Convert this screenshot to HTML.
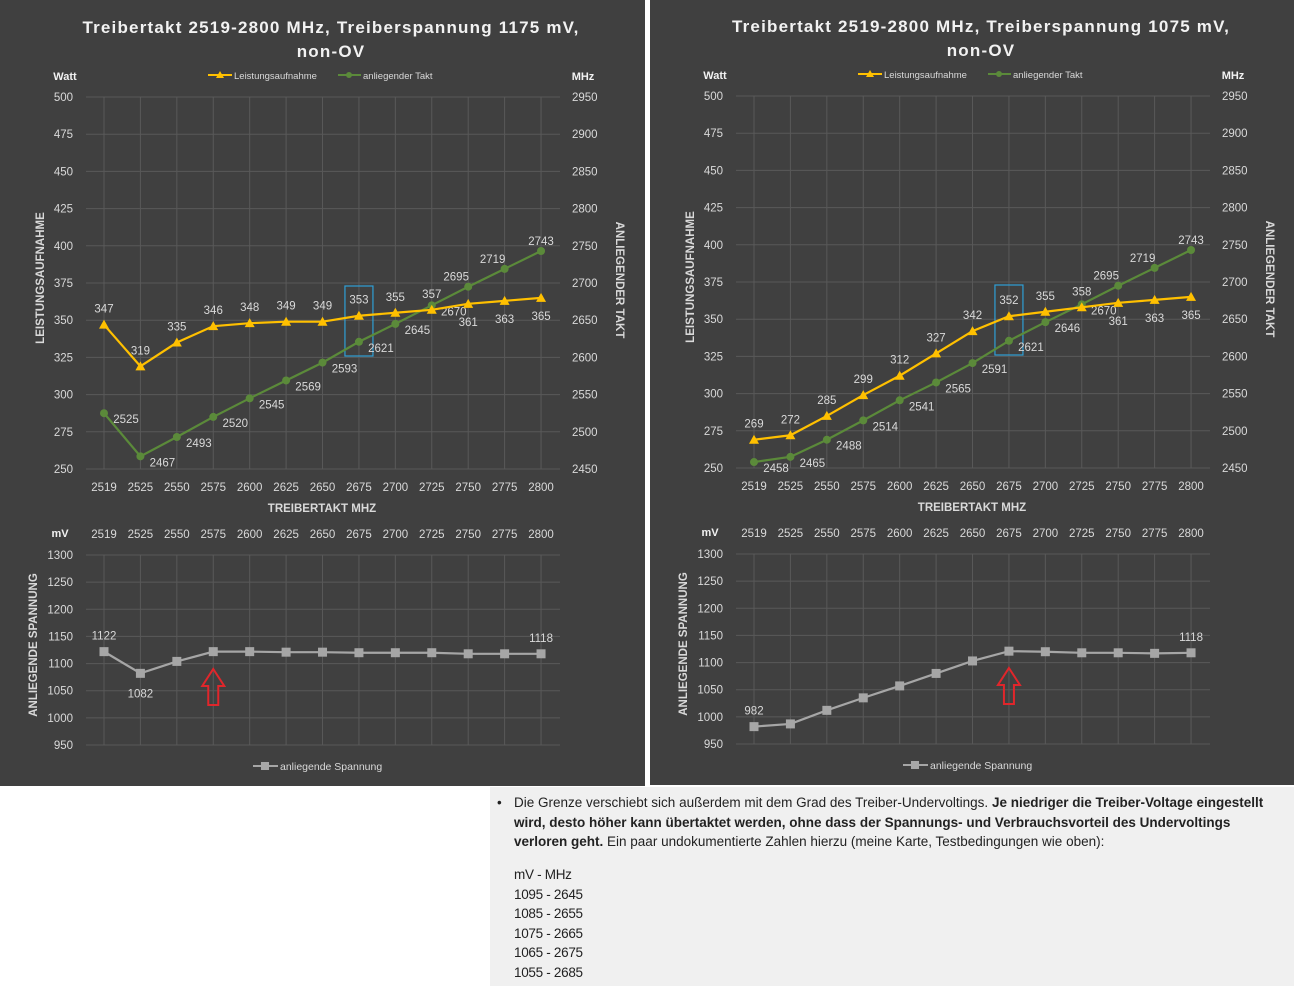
<!DOCTYPE html>
<html><head><meta charset="utf-8">
<style>
body{margin:0;width:1294px;height:986px;background:#fff;overflow:hidden;position:relative;font-family:"Liberation Sans",sans-serif}
#note{position:absolute;left:490px;top:787px;width:804px;height:199px;background:#f0f0f0;color:#222;font-family:"Liberation Sans Narrow","Liberation Sans",sans-serif;font-size:13.5px;line-height:19.6px;letter-spacing:-0.3px}
#note .p{position:absolute;left:24px;top:6px;width:778px;white-space:nowrap;letter-spacing:0}
#note .b{position:absolute;left:7px;top:6px}
#note .t{position:absolute;left:24px;top:78px}
</style></head><body>
<svg id="chart" width="1294" height="786" style="position:absolute;left:0;top:0" font-family="Liberation Sans, sans-serif"></svg>
<div id="note">
<div class="b">•</div>
<div class="p">Die Grenze verschiebt sich außerdem mit dem Grad des Treiber-Undervoltings. <b>Je niedriger die Treiber-Voltage eingestellt<br>wird, desto höher kann übertaktet werden, ohne dass der Spannungs- und Verbrauchsvorteil des Undervoltings<br>verloren geht.</b> Ein paar undokumentierte Zahlen hierzu (meine Karte, Testbedingungen wie oben):</div>
<div class="t">mV - MHz<br>1095 - 2645<br>1085 - 2655<br>1075 - 2665<br>1065 - 2675<br>1055 - 2685</div>
</div>
<script>
const categories=["2519","2525","2550","2575","2600","2625","2650","2675","2700","2725","2750","2775","2800"];
const wattTicks=[500,475,450,425,400,375,350,325,300,275,250];
const mhzTicks=[2950,2900,2850,2800,2750,2700,2650,2600,2550,2500,2450];
const mvTicks=[1300,1250,1200,1150,1100,1050,1000,950];
const powerL=[347,319,335,346,348,349,349,353,355,357,361,363,365];
const clockL=[2525,2467,2493,2520,2545,2569,2593,2621,2645,2670,2695,2719,2743];
const voltL=[1122,1082,1104,1122,1122,1121,1121,1120,1120,1120,1118,1118,1118];
const powerR=[269,272,285,299,312,327,342,352,355,358,361,363,365];
const clockR=[2458,2465,2488,2514,2541,2565,2591,2621,2646,2670,2695,2719,2743];
const voltR=[982,987,1012,1035,1057,1080,1103,1121,1120,1118,1118,1117,1118];
const titleL="Treibertakt 2519-2800 MHz, Treiberspannung 1175 mV,";
const titleR="Treibertakt 2519-2800 MHz, Treiberspannung 1075 mV,";
const voltLabelIdxL=[0,1,12], voltLabelIdxR=[0,12];
const arrowIdxL=3, arrowIdxR=7;

const NS="http://www.w3.org/2000/svg";
const svg=document.getElementById('chart');
function mk(tag,attrs,parent,txt){const e=document.createElementNS(NS,tag);for(const k in attrs)e.setAttribute(k,attrs[k]);if(txt!==undefined)e.textContent=txt;(parent||svg).appendChild(e);return e;}
const TXT="#d9d9d9",GRID="#595959",YEL="#ffc000",GRN="#5b8a3a",GRY="#a6a6a6";

function panel(ox,oy,title,power,clock,volt,voltIdx,arrowIdx,side){
  const g=mk('g',{transform:`translate(${ox},${oy})`});
  
  
  const bg=mk('rect',{x:0,y:0,width:645,height:786,fill:'#404040'},g);
  
  const t1=mk('text',{x:331,y:33,'text-anchor':'middle','font-size':17,'font-weight':'bold',fill:'#f2f2f2','letter-spacing':'1.2'},g,title);
  
  const t2=mk('text',{x:331,y:57,'text-anchor':'middle','font-size':17,'font-weight':'bold',fill:'#f2f2f2','letter-spacing':'1.2'},g,"non-OV");
  
  const X=i=>104+i*36.42;
  const yTop=97,yBot=469;
  const yW=v=>yBot-(v-250)/250*(yBot-yTop);
  const yM=v=>yBot-(v-2450)/500*(yBot-yTop);
  const vTop=555,vBot=745;
  const yV=v=>vBot-(v-950)/350*(vBot-vTop);
  wattTicks.forEach(v=>{const l=mk('line',{x1:86,x2:560,y1:yW(v),y2:yW(v),stroke:GRID},g);
    
    const t=mk('text',{x:73,y:yW(v)+4,'text-anchor':'end','font-size':11.5,fill:TXT},g,v);
    });
  mhzTicks.forEach(v=>{const t=mk('text',{x:572,y:yM(v)+4,'font-size':11.5,fill:TXT},g,v);
    });
  categories.forEach((c,i)=>{const l=mk('line',{x1:X(i),x2:X(i),y1:yTop,y2:yBot,stroke:GRID},g);
    
    const t=mk('text',{x:X(i),y:491,'text-anchor':'middle','font-size':11.5,fill:TXT},g,c);
    
    const l2=mk('line',{x1:X(i),x2:X(i),y1:vTop,y2:vBot,stroke:GRID},g);
    
    const t2=mk('text',{x:X(i),y:538,'text-anchor':'middle','font-size':11.5,fill:TXT},g,c);
    });
  mvTicks.forEach(v=>{const l=mk('line',{x1:86,x2:560,y1:yV(v),y2:yV(v),stroke:GRID},g);
    
    const t=mk('text',{x:73,y:yV(v)+4,'text-anchor':'end','font-size':11.5,fill:TXT},g,v);
    });
  let a;
  a=mk('text',{x:65,y:80,'text-anchor':'middle','font-size':11,'font-weight':'bold',fill:'#f2f2f2'},g,'Watt');
  a=mk('text',{x:583,y:80,'text-anchor':'middle','font-size':11,'font-weight':'bold',fill:'#f2f2f2'},g,'MHz');
  a=mk('text',{x:60,y:537,'text-anchor':'middle','font-size':11,'font-weight':'bold',fill:'#f2f2f2'},g,'mV');
  a=mk('text',{x:0,y:0,transform:'translate(44,278) rotate(-90)','text-anchor':'middle','font-size':11.5,'font-weight':'bold',fill:TXT},g,'LEISTUNGSAUFNAHME');
  a=mk('text',{x:0,y:0,transform:'translate(616,280) rotate(90)','text-anchor':'middle','font-size':11.5,'font-weight':'bold',fill:TXT},g,'ANLIEGENDER TAKT');
  a=mk('text',{x:0,y:0,transform:'translate(37,645) rotate(-90)','text-anchor':'middle','font-size':11.5,'font-weight':'bold',fill:TXT},g,'ANLIEGENDE SPANNUNG');
  a=mk('text',{x:322,y:512,'text-anchor':'middle','font-size':11.5,'font-weight':'bold',fill:TXT},g,'TREIBERTAKT MHZ');
  a=mk('line',{x1:208,x2:232,y1:75,y2:75,stroke:YEL,'stroke-width':2},g);
  a=mk('polygon',{points:'220,71 224,78 216,78',fill:YEL},g);
  a=mk('text',{x:234,y:79,'font-size':9.5,fill:TXT},g,'Leistungsaufnahme');
  a=mk('line',{x1:338,x2:361,y1:75,y2:75,stroke:GRN,'stroke-width':2},g);
  a=mk('circle',{cx:349,cy:75,r:3,fill:GRN},g);
  a=mk('text',{x:363,y:79,'font-size':9.5,fill:TXT},g,'anliegender Takt');
  a=mk('line',{x1:253,x2:278,y1:766,y2:766,stroke:GRY,'stroke-width':2},g);
  a=mk('rect',{x:261,y:762,width:8,height:8,fill:GRY},g);
  a=mk('text',{x:280,y:770,'font-size':10.5,fill:TXT},g,'anliegende Spannung');
  a=mk('rect',{x:X(7)-14,y:yW(375)+3,width:28,height:70,fill:'none',stroke:'#2e9fd6','stroke-width':1.2},g);
  const ax=X(arrowIdx),ay=669;
  a=mk('polygon',{points:`${ax},${ay} ${ax+11},${ay+17} ${ax+5},${ay+17} ${ax+5},${ay+36} ${ax-5},${ay+36} ${ax-5},${ay+17} ${ax-11},${ay+17}`,fill:'none',stroke:'#e0262b','stroke-width':2},g);
  a=mk('polyline',{points:clock.map((v,i)=>X(i)+','+yM(v)).join(' '),fill:'none',stroke:GRN,'stroke-width':2.2},g);
  clock.forEach((v,i)=>{const c=mk('circle',{cx:X(i),cy:yM(v),r:4,fill:GRN},g);
    
    let dx=22,dy=6; if(i>=10){dx=i==12?0:-12;dy=-10;}
    const t=mk('text',{x:X(i)+dx,y:yM(v)+dy+4,'text-anchor':'middle','font-size':11.5,fill:TXT},g,v);
    });
  a=mk('polyline',{points:power.map((v,i)=>X(i)+','+yW(v)).join(' '),fill:'none',stroke:YEL,'stroke-width':2.2},g);
  power.forEach((v,i)=>{const p=mk('polygon',{points:`${X(i)},${yW(v)-5} ${X(i)+5},${yW(v)+4} ${X(i)-5},${yW(v)+4}`,fill:YEL},g);
    
    let dy=-12; if(i>=10) dy=22;
    const t=mk('text',{x:X(i),y:yW(v)+dy,'text-anchor':'middle','font-size':11.5,fill:TXT},g,v);
    });
  a=mk('polyline',{points:volt.map((v,i)=>X(i)+','+yV(v)).join(' '),fill:'none',stroke:GRY,'stroke-width':2.2},g);
  volt.forEach((v,i)=>{const r=mk('rect',{x:X(i)-4.5,y:yV(v)-4.5,width:9,height:9,fill:GRY},g);
    });
  voltIdx.forEach(i=>{const v=volt[i];const below=i>0&&i<12&&v<volt[i-1];
    const t=mk('text',{x:X(i),y:yV(v)+(below?24:-12),'text-anchor':'middle','font-size':11.5,fill:TXT},g,v);
    });
}
panel(0,0,titleL,powerL,clockL,voltL,voltLabelIdxL,arrowIdxL,'left');
panel(650,-1,titleR,powerR,clockR,voltR,voltLabelIdxR,arrowIdxR,'right');
</script>
</body></html>
